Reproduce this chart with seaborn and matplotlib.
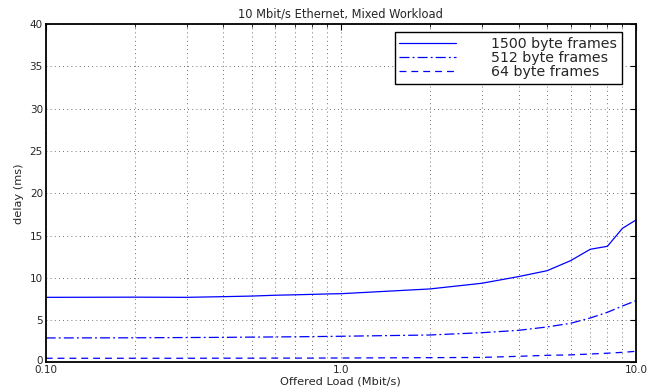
import numpy as np
import pandas as pd
import matplotlib
matplotlib.use("Agg")
import matplotlib.pyplot as plt
import matplotlib.transforms as mtransforms
import seaborn as sns
from matplotlib.ticker import FixedLocator, FixedFormatter, NullFormatter

load = [0.1, 0.2, 0.3, 0.4, 0.5, 0.6, 0.7, 0.8, 0.9, 1.0, 2, 3, 4, 5, 6, 7, 8, 9, 10]
delay_1500 = [7.7, 7.72, 7.7, 7.78, 7.85, 7.95, 8.0, 8.05, 8.1, 8.13, 8.69, 9.36, 10.15, 10.85, 12.03, 13.38, 13.73, 15.86, 16.84]
delay_512 = [2.9, 2.92, 2.95, 2.97, 3.0, 3.02, 3.04, 3.06, 3.08, 3.1, 3.25, 3.52, 3.8, 4.2, 4.63, 5.26, 5.93, 6.68, 7.3]
delay_64 = [0.5, 0.5, 0.5, 0.51, 0.51, 0.52, 0.52, 0.52, 0.53, 0.53, 0.57, 0.6, 0.73, 0.85, 0.9, 1.0, 1.1, 1.2, 1.32]
series_names = ["1500 byte frames", "512 byte frames", "64 byte frames"]
x_tick_vals = [0.1, 1.0, 10.0]
x_tick_labels = ["0.10", "1.0", "10.0"]
y_ticks = [0, 5, 10, 15, 20, 25, 30, 35, 40]

df = pd.DataFrame({
    "load": load * 3,
    "delay": delay_1500 + delay_512 + delay_64,
    "series": sum([[n] * len(load) for n in series_names], []),
})

sns.set_style("white")
plt.rcParams["font.family"] = ["DejaVu Sans"]

fig = plt.figure(figsize=(6.47, 3.91), dpi=100)
ax = fig.add_axes([0.0706, 0.0729, 0.9124, 0.8657])

sns.lineplot(data=df, x="load", y="delay", hue="series", style="series",
             palette=["#0000ff"] * 3,
             dashes={series_names[0]: "", series_names[1]: (8, 2.5, 1.5, 2.5), series_names[2]: (5.5, 4)},
             linewidth=0.9, ax=ax, legend=True, estimator=None, sort=True)

ax.set_xscale("log")
ax.set_xlim(0.1, 10)
ax.set_ylim(0, 40)
ax.xaxis.set_major_locator(FixedLocator(x_tick_vals))
ax.xaxis.set_major_formatter(FixedFormatter(x_tick_labels))
minors = [m * d for d in (0.1, 1.0) for m in range(2, 10)]
ax.xaxis.set_minor_locator(FixedLocator(minors))
ax.xaxis.set_minor_formatter(NullFormatter())
ax.set_yticks(y_ticks)

ax.grid(True, which="major", axis="both", linestyle=(0, (1, 4)), color="#444444", linewidth=0.6)
ax.grid(True, which="minor", axis="x", linestyle=(0, (1, 4)), color="#444444", linewidth=0.6)

for s in ax.spines.values():
    s.set_visible(True)
    s.set_color("black")
    s.set_linewidth(1.3)

ax.tick_params(which="both", direction="in", top=True, right=True, color="black",
               labelsize=7.5, pad=2)
ax.tick_params(which="major", length=4, width=0.8)
ax.tick_params(which="minor", length=2.5, width=0.6)

ax.set_title("10 Mbit/s Ethernet, Mixed Workload", fontsize=8.3, pad=5)
ax.set_xlabel("Offered Load (Mbit/s)", fontsize=8.2, labelpad=1)
ax.set_ylabel("delay (ms)", fontsize=8.2, labelpad=4)

# nudge the "0" y tick label up slightly so it does not collide with "0.10"
fig.canvas.draw()
ylabels = ax.get_yticklabels()
ylabels[0].set_transform(ylabels[0].get_transform() +
                         mtransforms.ScaledTranslation(0, 2.5 / 100, fig.dpi_scale_trans))

handles, labels = ax.get_legend_handles_labels()
leg = ax.legend(handles, labels, loc="upper right", bbox_to_anchor=(0.976, 0.976),
                borderaxespad=0, fontsize=10.2, frameon=True, fancybox=False,
                edgecolor="black", handlelength=4.0, handletextpad=2.5,
                labelspacing=0.02, borderpad=0.32, framealpha=1)
leg.get_frame().set_linewidth(1.0)

fig.savefig("out.png", dpi=100)
